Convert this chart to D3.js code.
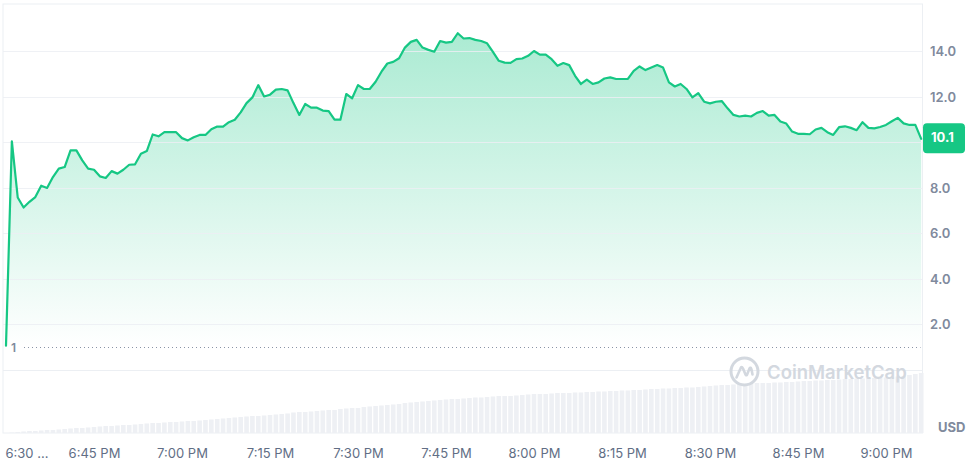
<!DOCTYPE html>
<html><head><meta charset="utf-8">
<script src="https://cdn.jsdelivr.net/npm/d3@7"></script>
<style>html,body{margin:0;padding:0;background:#fff;} svg{display:block;font-family:Inter,"Noto Sans",sans-serif;}</style>
</head><body><svg id="chart" width="972" height="460"></svg>
<script>
// ---- data ----
const startTime = "2024-01-01T18:30:00";
const priceValues = [
 1.05,10.03,7.56,7.12,7.37,7.58,8.08,7.98,8.46,8.83,
 8.90,9.63,9.63,9.19,8.83,8.78,8.49,8.42,8.72,8.61,
 8.78,9.00,9.02,9.48,9.60,10.33,10.25,10.43,10.43,10.43,
 10.17,10.07,10.21,10.31,10.31,10.56,10.68,10.68,10.87,10.98,
 11.30,11.71,11.96,12.50,12.00,12.08,12.30,12.33,12.27,11.71,
 11.19,11.67,11.51,11.51,11.38,11.36,10.98,10.98,12.11,11.92,
 12.50,12.33,12.33,12.65,13.09,13.45,13.52,13.68,14.15,14.40,
 14.49,14.15,14.05,13.97,14.44,14.37,14.40,14.78,14.55,14.57,
 14.49,14.44,14.34,13.96,13.57,13.49,13.48,13.64,13.67,13.79,
 14.00,13.84,13.84,13.64,13.35,13.47,13.38,12.91,12.55,12.74,
 12.55,12.62,12.79,12.84,12.77,12.77,12.77,13.13,13.32,13.16,
 13.27,13.38,13.27,12.62,12.44,12.55,12.33,11.96,12.15,11.77,
 11.70,11.77,11.80,11.48,11.19,11.12,11.16,11.12,11.28,11.36,
 11.16,11.19,10.90,10.81,10.46,10.36,10.36,10.34,10.55,10.62,
 10.43,10.31,10.65,10.69,10.62,10.52,10.87,10.62,10.60,10.66,
 10.75,10.91,11.06,10.82,10.75,10.75,10.14
];
const volumeValues = [
 0,0.5,1,1.5,2,2,2.5,3,3,3.5,
 4,4.5,5,5,5.5,6,6.5,7,7,7.5,
 8,8,8.5,9,9.5,10,10,10.5,11,11,
 11.5,12,12,12.5,13,13.5,14,14.5,15,15.5,
 16,16.5,17,17,17.5,18,18.5,19,19.5,20.5,
 21,21,21.5,22,22.5,23,23,24,24.5,25,
 25,26,26.5,27,27.5,28,28.5,29,30,30.5,
 31,31.5,32,32.5,33,33.5,34,34,34.5,35,
 35.5,35.5,36,36.5,37,37,37,37.5,38,38.5,
 39,39,39,39.5,40,40,40,40.5,40.5,41,
 41,41.5,41.5,42,42,42.5,42.5,43,43,43.5,
 44,44,44.5,44.5,45,45,45.5,45.5,46,46.5,
 47,47.5,48,48,48.5,49,49,49.5,50,50,
 50,50.5,50.5,51,51,51.5,52,52,52.5,52.5,
 53,53,53.5,54,54,54.5,54.5,55,55,55.5,
 55.5,56,56.5,57,58,59,60
];
const yTickValues = [2,4,6,8,12,14];
const yTickLabels = ["2.0","4.0","6.0","8.0","12.0","14.0"];
const gridValues = [2,4,6,8,10,12,14];
const xTickTimes = ["18:30","18:45","19:00","19:15","19:30","19:45","20:00","20:15","20:30","20:45","21:00"];
const xTickLabels = ["6:30 ...","6:45 PM","7:00 PM","7:15 PM","7:30 PM","7:45 PM","8:00 PM","8:15 PM","8:30 PM","8:45 PM","9:00 PM"];
const openPrice = 1;
const lastPriceLabel = "10.1";
const currencyLabel = "USD";
const watermarkText = "CoinMarketCap";

// ---- setup ----
const svg = d3.select("#chart");
const t0 = new Date(startTime);
const times = priceValues.map((_, i) => new Date(t0.getTime() + i * 60000));
const parseHM = s => { const [h, m] = s.split(":").map(Number); const d = new Date(t0); d.setHours(h, m, 0, 0); return d; };
const xTicks = xTickTimes.map(parseHM);

const plotL = 3, plotR = 922.5, plotT = 4, priceB = 370, volB = 433;
const x = d3.scaleTime().domain([parseHM("18:30"), parseHM("21:00")]).range([6, 886]);
const y = d3.scaleLinear().domain([0, 14]).range([369.5, 51]);
const yv = d3.scaleLinear().domain([0, 60]).range([volB, 373]);

const green = "#16c784";
const defs = svg.append("defs");
const grad = defs.append("linearGradient").attr("id", "areaGrad")
  .attr("gradientUnits", "userSpaceOnUse").attr("x1", 0).attr("x2", 0)
  .attr("y1", y(d3.max(priceValues))).attr("y2", y(openPrice));
grad.append("stop").attr("offset", "0%").attr("stop-color", green).attr("stop-opacity", 0.36);
grad.append("stop").attr("offset", "100%").attr("stop-color", green).attr("stop-opacity", 0.0);

// frame
const frame = svg.append("g").attr("stroke", "#eceff3").attr("fill", "none");
frame.append("rect").attr("x", plotL).attr("y", plotT).attr("width", plotR - plotL).attr("height", volB - plotT);
frame.append("line").attr("x1", plotL).attr("x2", plotR).attr("y1", priceB + 0.5).attr("y2", priceB + 0.5);

// volume bars
svg.append("g").selectAll("rect").data(volumeValues).join("rect")
  .attr("x", (d, i) => x(times[i]) - 2.3)
  .attr("width", 4.6)
  .attr("y", d => yv(d))
  .attr("height", d => volB - yv(d))
  .attr("fill", "#eef0f4");

// watermark
const wm = svg.append("g").attr("transform", "translate(744.5,371.5)");
wm.append("circle").attr("r", 13.5).attr("fill", "none").attr("stroke", "#d3d8df").attr("stroke-width", 3);
wm.append("path").attr("d", "M-8,6 L-4,-3 Q-3,-6 -1.5,-3 L1,3 Q2,5 3,2 L5,-3 Q6,-5 7,-2 L8,3")
  .attr("fill", "none").attr("stroke", "#d3d8df").attr("stroke-width", 2.6).attr("stroke-linecap", "round").attr("stroke-linejoin", "round");
svg.append("text").attr("x", 767).attr("y", 373.5).attr("dominant-baseline", "middle")
  .attr("font-size", 18.5).attr("font-weight", 600).attr("fill", "#d3d8df").text(watermarkText);

// area
const area = d3.area().x((d, i) => x(times[i])).y0(y(0)).y1(d => y(d));
svg.append("path").datum(priceValues).attr("d", area).attr("fill", "url(#areaGrad)");

// grid
svg.append("g").selectAll("line").data(gridValues).join("line")
  .attr("x1", plotL).attr("x2", plotR)
  .attr("y1", d => Math.round(y(d)) + 0.5).attr("y2", d => Math.round(y(d)) + 0.5)
  .attr("stroke", "#eceff3").attr("stroke-opacity", 0.85);

// open price dotted line
svg.append("line").attr("x1", 24).attr("x2", plotR - 2)
  .attr("y1", Math.round(y(openPrice)) + 0.5).attr("y2", Math.round(y(openPrice)) + 0.5)
  .attr("stroke", "#8a94a6").attr("stroke-dasharray", "1,3");
svg.append("text").attr("x", 11).attr("y", y(openPrice) + 1.5).attr("dominant-baseline", "middle")
  .attr("font-size", 12).attr("font-weight", 600).attr("fill", "#808a9d").text(String(openPrice));

// line
const line = d3.line().x((d, i) => x(times[i])).y(d => y(d));
svg.append("path").datum(priceValues).attr("d", line).attr("fill", "none")
  .attr("stroke", green).attr("stroke-width", 2.2).attr("stroke-linejoin", "round").attr("stroke-linecap", "round");

// y axis
const yAxis = d3.axisRight(y).tickValues(yTickValues).tickFormat((d, i) => yTickLabels[i]).tickSize(0).tickPadding(0);
const gy = svg.append("g").attr("transform", "translate(930,0)").call(yAxis);
gy.select(".domain").remove();
gy.selectAll("text").attr("font-family", "Inter,'Noto Sans',sans-serif").attr("font-size", 13)
  .attr("font-weight", 600).attr("fill", "#808a9d").attr("dy", "0.35em");

// last price badge
const lastY = y(priceValues[priceValues.length - 1]);
svg.append("rect").attr("x", 923).attr("y", lastY - 15.5).attr("width", 42).attr("height", 30).attr("rx", 4).attr("fill", green);
svg.append("text").attr("x", 931).attr("y", lastY).attr("dominant-baseline", "middle")
  .attr("font-size", 13).attr("font-weight", 700).attr("fill", "#fff").text(lastPriceLabel);

// currency label
svg.append("text").attr("x", 938).attr("y", 428).attr("dominant-baseline", "middle")
  .attr("font-size", 13).attr("font-weight", 700).attr("fill", "#808a9d").text(currencyLabel);

// x axis
const xAxis = d3.axisBottom(x).tickValues(xTicks).tickFormat((d, i) => xTickLabels[i]).tickSize(0).tickPadding(0);
const gx = svg.append("g").attr("transform", "translate(0,453)").call(xAxis);
gx.select(".domain").remove();
gx.selectAll("text").attr("font-family", "Inter,'Noto Sans',sans-serif").attr("font-size", 13)
  .attr("font-weight", 400).attr("fill", "#616e85").attr("dy", "0.35em")
  .attr("text-anchor", (d, i) => i === 0 ? "start" : "middle")
  .attr("x", (d, i) => i === 0 ? -1 : 0);
</script></body></html>
